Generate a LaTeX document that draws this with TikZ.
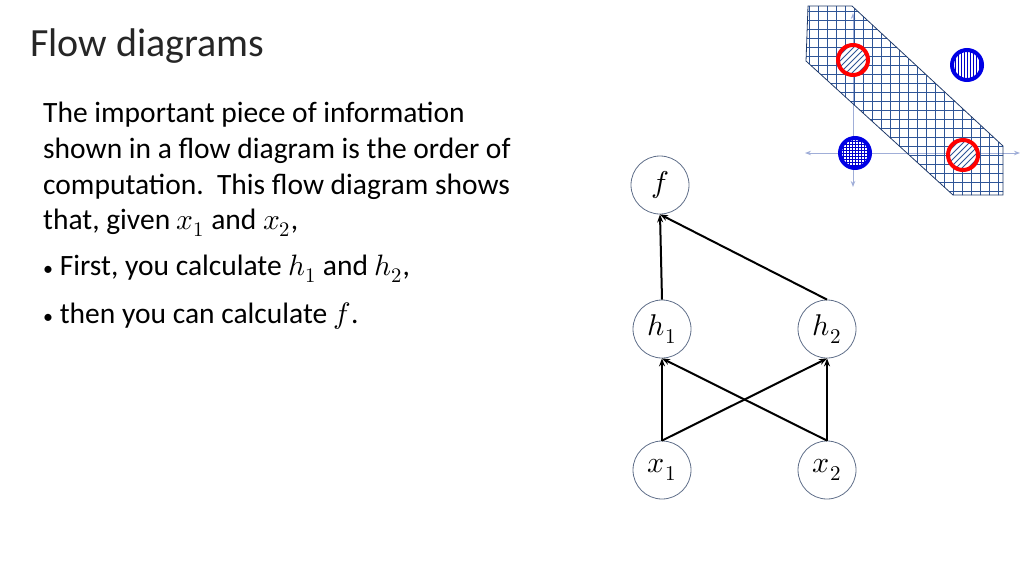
\documentclass[tikz,border=0pt]{standalone}
\usepackage{unicode-math}
\setmainfont{Carlito}
\setmathfont{Latin Modern Math}
\usetikzlibrary{arrows.meta}
\definecolor{gblue}{RGB}{47,85,151}
\definecolor{axc}{RGB}{120,140,200}
\begin{document}
\begin{tikzpicture}[x=1pt,y=-1pt,
  nd/.style={circle,draw=gblue!40!gray,line width=0.8pt,minimum size=58pt,inner sep=0pt,font=\fontsize{30}{32}\selectfont},
  ar/.style={-{Stealth[length=8pt,width=6pt]},line width=2pt},
  txt/.style={anchor=west,font=\fontsize{29.5}{32}\selectfont,inner sep=0pt}]
\useasboundingbox (0,0) rectangle (1024,576);
\node[anchor=west,inner sep=0pt,font=\fontsize{40}{44}\selectfont,text=black!85] (title) at (30,46) {Flow diagrams};
\node[txt] (l1) at (43,115) {The important piece of information};
\node[txt] (l2) at (43,151) {shown in a flow diagram is the order of};
\node[txt] (l3) at (43,187) {computation.\ \ This flow diagram shows};
\node[txt] (l4) at (43,223) {that, given $x_1$ and $x_2$,};
\node[txt] (l5) at (43,269) {{\fontsize{20}{20}\selectfont\textbullet}\ First, you calculate $h_1$ and $h_2$,};
\node[txt] (l6) at (43,316) {{\fontsize{20}{20}\selectfont\textbullet}\ then you can calculate $f$.};
% graph
\node[nd] (f) at (660,185) {$f$};
\node[nd] (h1) at (662,329) {$h_1$};
\node[nd] (h2) at (827,329) {$h_2$};
\node[nd] (x1) at (662,470) {$x_1$};
\node[nd] (x2) at (827,470) {$x_2$};
\draw[ar] (h1.north) -- (f.south);
\draw[ar] (h2.north) -- (f.south);
\draw[ar] (x1.north) -- (h1.south);
\draw[ar] (x1.north) -- (h2.south);
\draw[ar] (x2.north) -- (h1.south);
\draw[ar] (x2.north) -- (h2.south);
% top-right figure
\coordinate (ax1) at (805,153); \coordinate (ax2) at (1020,153);
\coordinate (ay1) at (853,13); \coordinate (ay2) at (853,187);
\draw[axc!70,line width=1pt,{Stealth[length=6pt]}-{Stealth[length=6pt]}] (ax1) -- (ax2);
\draw[axc!70,line width=1pt,{Stealth[length=6pt]}-{Stealth[length=6pt]}] (ay1) -- (ay2);
\begin{scope}
\clip (808,6) -- (852,6) -- (1003,146) -- (1003,195) -- (953,195) -- (806,61) -- cycle;
\foreach \k in {800,809,...,1010}{\draw[gblue,line width=0.6pt] (\k,0) -- (\k,200);}
\foreach \k in {2,11,...,200}{\draw[gblue,line width=0.6pt] (800,\k) -- (1010,\k);}
\end{scope}
\draw[gblue!70!black,line width=0.8pt] (808,6) -- (852,6) -- (1003,146) -- (1003,195) -- (953,195) -- (806,61) -- cycle;
% circles
\foreach \cx/\cy in {853/60,963/155}{
  \fill[white] (\cx,\cy) circle (14);
  \begin{scope}\clip (\cx,\cy) circle (14);
  \foreach \k in {-30,-24,...,30}{\draw[gblue,line width=0.9pt] (\cx+\k-20,\cy+20) -- (\cx+\k+20,\cy-20);}
  \end{scope}
  \draw[red,line width=4pt] (\cx,\cy) circle (15);}
\fill[white] (967,65) circle (14);
\begin{scope}\clip (967,65) circle (14);
\foreach \k in {-15,-12,...,15}{\draw[blue!80!black,line width=0.8pt] (967+\k,45) -- (967+\k,85);}
\end{scope}
\draw[blue!90!black,line width=4pt] (967,65) circle (15);
\fill[white] (855,153) circle (14);
\begin{scope}\clip (855,153) circle (14);
\foreach \k in {-18,-15,...,18}{\draw[blue!80!black,line width=0.6pt] (855+\k,133) -- (855+\k,173);
  \draw[blue!80!black,line width=0.6pt] (835,153+\k) -- (875,153+\k);}
\end{scope}
\draw[blue!90!black,line width=4pt] (855,153) circle (15);
\end{tikzpicture}
\end{document}
